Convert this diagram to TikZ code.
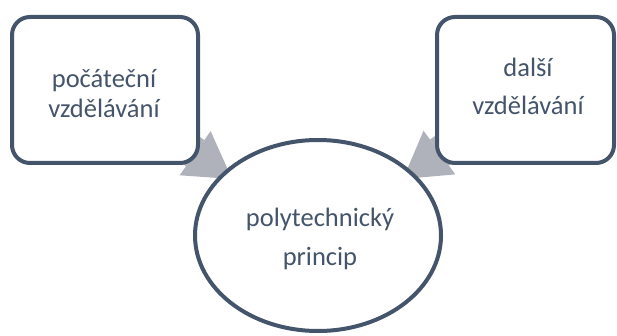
\documentclass[tikz,border=0pt]{standalone}
\usepackage{fontspec}
\setmainfont{Carlito}
\usetikzlibrary{arrows.meta,shapes.geometric,backgrounds}
\definecolor{frame}{RGB}{68,84,106}
\definecolor{arrowgray}{RGB}{175,178,186}
\begin{document}
\begin{tikzpicture}[x=1pt,y=-1pt,
  box/.style={draw=frame, line width=4pt, rounded corners=18pt, fill=white, inner sep=0pt},
  oval/.style={draw=frame, line width=4pt, ellipse, fill=white, inner sep=0pt},
  txt/.style={text=frame, align=center, inner sep=0pt},
  bigarrow/.style={draw=arrowgray, line width=32pt, -{Triangle[width=54pt,length=45pt,line width=0pt]}}
]
\useasboundingbox (0,0) rectangle (617,336);
\node[box, minimum width=186pt, minimum height=146pt] (b1) at (105,90) {};
\node[box, minimum width=177pt, minimum height=146pt] (b2) at (525.5,90) {};
\node[oval, minimum width=246pt, minimum height=191pt] (e) at (318,235.5) {};
\coordinate (tipL) at (232,179);
\coordinate (tipR) at (403,179);
\begin{scope}[on background layer]
  \draw[bigarrow] (b1.center) -- (tipL);
  \draw[bigarrow] (b2.center) -- (tipR);
\end{scope}
\node[txt, font=\fontsize{26.5}{30}\selectfont, anchor=base] (t1) at (104,118) {počáteční\\vzdělávání};
\node[txt, font=\fontsize{26.5}{38}\selectfont, anchor=base] (t2) at (528,115) {další\\vzdělávání};
\node[txt, font=\fontsize{26.5}{38}\selectfont, anchor=base] (t3) at (320,265) {polytechnický\\princip};
\end{tikzpicture}
\end{document}
